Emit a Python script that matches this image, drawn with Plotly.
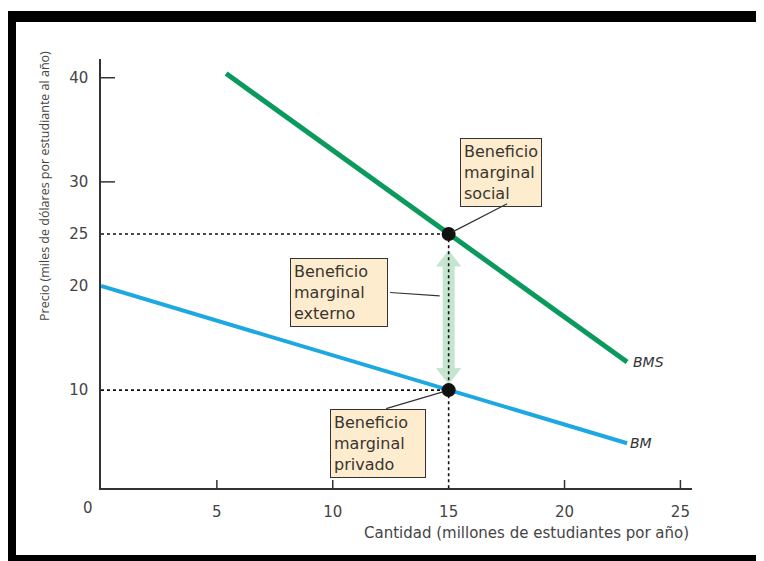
import plotly.graph_objects as go

# ---- data ----
bms_x = [5.4, 15, 22.7]
bms_y = [40.4, 25, 12.7]
bm_x = [0, 15, 22.7]
bm_y = [20, 10, 4.9]
eq_q = 15
eq_price_social = 25
eq_price_private = 10
arrow_y = [11.6, 22.4]
x_tick_vals = [5, 10, 15, 20, 25]
x_tick_text = ["5", "10", "15", "20", "25"]
x_tick_marks = [5, 10, 20, 25]
y_tick_vals = [10, 20, 25, 30, 40]
y_tick_text = ["10", "20", "25", "30", "40"]
y_tick_marks = [30, 40]

OFF = 8  # page body margin
W_FIG, H_FIG = 764 - OFF, 561 - OFF
# plot area in page pixels
L, R, T, B = 101, 692, 59, 488
PW, PH = R - L, B - T


def px(x):
    return (x - L) / PW


def py(y):
    return (B - y) / PH


GREEN = "#0b9a5d"
BLUE = "#1ea8e2"
ARROW = "#c6e5d0"
FONT = "DejaVu Sans"
TXT = "#444444"

fig = go.Figure()

# external-benefit double arrow
fig.add_trace(go.Scatter(x=[eq_q, eq_q], y=arrow_y, mode="lines",
                         line=dict(color=ARROW, width=12), hoverinfo="skip"))
fig.add_trace(go.Scatter(x=[eq_q], y=[arrow_y[1]], mode="markers",
                         marker=dict(symbol="triangle-up", size=22, color=ARROW), hoverinfo="skip"))
fig.add_trace(go.Scatter(x=[eq_q], y=[arrow_y[0]], mode="markers",
                         marker=dict(symbol="triangle-down", size=22, color=ARROW), hoverinfo="skip"))

# curves
fig.add_trace(go.Scatter(x=bm_x, y=bm_y, mode="lines", line=dict(color=BLUE, width=4)))
fig.add_trace(go.Scatter(x=bms_x, y=bms_y, mode="lines", line=dict(color=GREEN, width=5)))

# dotted guide lines
dot = dict(color="#111111", width=1.6, dash="dot")
fig.add_trace(go.Scatter(x=[0, eq_q], y=[eq_price_social, eq_price_social], mode="lines", line=dot))
fig.add_trace(go.Scatter(x=[0, eq_q], y=[eq_price_private, eq_price_private], mode="lines", line=dot))
fig.add_trace(go.Scatter(x=[eq_q, eq_q], y=[0, eq_price_social], mode="lines", line=dot))

# points
fig.add_trace(go.Scatter(x=[eq_q, eq_q], y=[eq_price_social, eq_price_private], mode="markers",
                         marker=dict(color="#111111", size=14)))

shapes = []
for xv in x_tick_marks:
    shapes.append(dict(type="line", xref="x", yref="y domain", x0=xv, x1=xv, y0=0, y1=8 / PH,
                       line=dict(color="#333", width=1.5)))
for yv in y_tick_marks:
    shapes.append(dict(type="line", xref="x domain", yref="y", x0=-2 / PW, x1=14 / PW, y0=yv, y1=yv,
                       line=dict(color="#333", width=1.5)))
# black frame (page pixels)
for (x0, x1, y0, y1) in [(0, 780, 11, 22), (0, 16, 11, 570), (0, 780, 555, 570)]:
    shapes.append(dict(type="rect", xref="paper", yref="paper", x0=px(x0), x1=px(x1), y0=py(y1), y1=py(y0),
                       fillcolor="black", line=dict(width=0), layer="above"))

box = dict(bgcolor="#fdecce", bordercolor="#333333", borderwidth=1, borderpad=3,
           font=dict(family=FONT, size=16, color="#3a3530"), align="left", showarrow=False,
           xanchor="left", yanchor="top")
leader = dict(text="", showarrow=True, arrowhead=0, arrowwidth=1.2, arrowcolor="#333333")

annotations = [
    dict(x=eq_q, y=eq_price_social, text="Beneficio<br>marginal<br>social", xshift=11, yshift=96, **box),
    dict(x=eq_q, y=eq_price_social, text="Beneficio<br>marginal<br>externo", xshift=-159, yshift=-24,
         width=90, **box),
    dict(x=eq_q, y=eq_price_private, text="Beneficio<br>marginal<br>privado", xshift=-119, yshift=-19,
         width=88, **box),
    dict(x=eq_q, y=eq_price_social, ax=60, ay=-31, standoff=5, **leader),
    dict(x=eq_q, y=(eq_price_social + eq_price_private) / 2 + 1.5, ax=-60, ay=-4, standoff=9, **leader),
    dict(x=eq_q, y=eq_price_private, ax=-64, ay=19, standoff=6, **leader),
    dict(x=bms_x[-1], y=bms_y[-1], text="<i>BMS</i>", showarrow=False, xanchor="left", xshift=4,
         font=dict(family=FONT, size=14, color="#333")),
    dict(x=bm_x[-1], y=bm_y[-1], text="<i>BM</i>", showarrow=False, xanchor="left", xshift=1,
         font=dict(family=FONT, size=14, color="#333")),
    dict(xref="paper", yref="paper", x=px(88), y=py(508), text="0", showarrow=False,
         xanchor="center", yanchor="middle", font=dict(family=FONT, size=15, color=TXT)),
    dict(xref="paper", yref="paper", x=px(691), y=py(533), text="Cantidad (millones de estudiantes por año)",
         showarrow=False, xanchor="right", yanchor="middle", font=dict(family=FONT, size=15, color=TXT)),
    dict(xref="paper", yref="paper", x=px(44), y=py(186), text="Precio (miles de dólares por estudiante al año)",
         showarrow=False, textangle=-90, xanchor="center", yanchor="middle",
         font=dict(family="Open Sans", size=12.5, color=TXT)),
]

fig.update_layout(
    width=W_FIG, height=H_FIG,
    margin=dict(l=L - OFF, r=W_FIG - (R - OFF), t=T - OFF, b=H_FIG - (B - OFF)),
    paper_bgcolor="white", plot_bgcolor="white",
    showlegend=False,
    shapes=shapes, annotations=annotations,
    xaxis=dict(range=[0, 25.5], tickvals=x_tick_vals, ticktext=x_tick_text, ticks="",
               showgrid=False, zeroline=False, showline=True, linecolor="#333", linewidth=1.5,
               tickfont=dict(family=FONT, size=15, color=TXT), ticklabelstandoff=9),
    yaxis=dict(range=[0.6, 41.8], tickvals=y_tick_vals, ticktext=y_tick_text, ticks="",
               showgrid=False, zeroline=False, showline=True, linecolor="#333", linewidth=1.5,
               tickfont=dict(family=FONT, size=15, color=TXT), ticklabelstandoff=8),
)

fig.write_html("out.html")
